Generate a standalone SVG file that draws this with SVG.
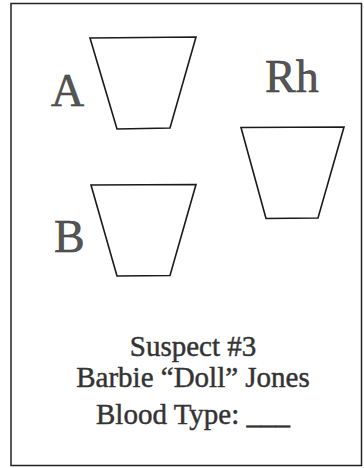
<svg xmlns="http://www.w3.org/2000/svg" width="364" height="468" viewBox="0 0 364 468">
  <style>
    .frame { fill: none; stroke: #222; stroke-width: 1.5; }
    .cup { fill: #fff; stroke: #1a1a1a; stroke-width: 1.6; stroke-linejoin: miter; }
    .big { font-family: "Liberation Serif", "Times New Roman", serif; font-size: 46px; fill: #555; stroke: #333; stroke-width: 0.5; }
    .txt { font-family: "Liberation Serif", "Times New Roman", serif; font-size: 29px; fill: #333; stroke: #333; stroke-width: 0.45; text-anchor: middle; }
  </style>
  <rect width="364" height="468" fill="#fff"/>
  <rect class="frame" x="11" y="3.5" width="350.5" height="462"/>

  <g id="well-a">
    <polygon class="cup" points="90,38 196,37 170,128 117,129"/>
    <text class="big" x="51" y="106">A</text>
  </g>

  <g id="well-b">
    <polygon class="cup" points="91,185 196,184.5 170,275.5 117,276"/>
    <text class="big" x="54" y="252">B</text>
  </g>

  <g id="well-rh">
    <polygon class="cup" points="241,127.5 344,127 318,218 266,218.5"/>
    <text class="big" x="265" y="92">Rh</text>
  </g>

  <g id="caption">
    <text class="txt" x="193" y="356">Suspect #3</text>
    <text class="txt" x="193" y="387">Barbie “Doll” Jones</text>
    <text class="txt" x="193" y="424">Blood Type: ___</text>
  </g>
</svg>
